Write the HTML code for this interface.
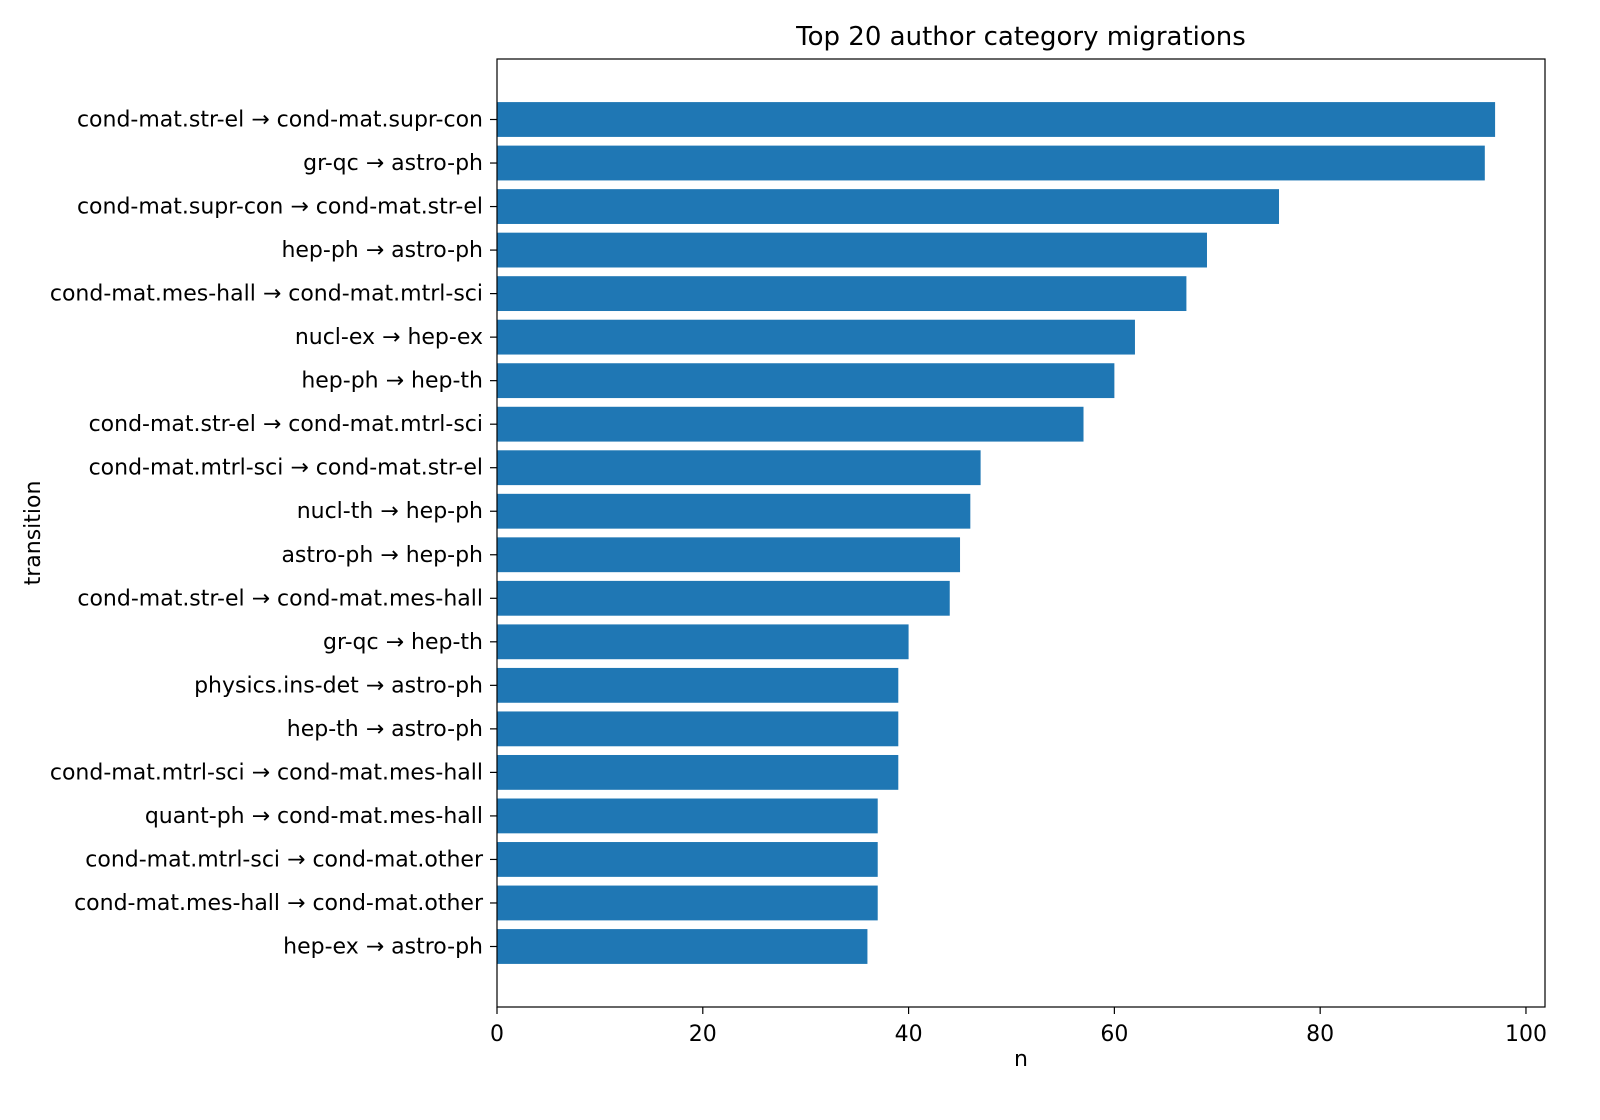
<!DOCTYPE html>
<html><head><meta charset="utf-8"><style>
html,body{margin:0;padding:0;background:#fff;overflow:hidden;width:1600px;height:1120px;}
svg{display:block;}
svg text{font-family:"DejaVu Sans","Liberation Sans",sans-serif;fill:#000;}
</style></head><body>
<svg id="chart" width="1600" height="1120" xmlns="http://www.w3.org/2000/svg"></svg>
<script>
const categories=["cond-mat.str-el → cond-mat.supr-con","gr-qc → astro-ph","cond-mat.supr-con → cond-mat.str-el","hep-ph → astro-ph","cond-mat.mes-hall → cond-mat.mtrl-sci","nucl-ex → hep-ex","hep-ph → hep-th","cond-mat.str-el → cond-mat.mtrl-sci","cond-mat.mtrl-sci → cond-mat.str-el","nucl-th → hep-ph","astro-ph → hep-ph","cond-mat.str-el → cond-mat.mes-hall","gr-qc → hep-th","physics.ins-det → astro-ph","hep-th → astro-ph","cond-mat.mtrl-sci → cond-mat.mes-hall","quant-ph → cond-mat.mes-hall","cond-mat.mtrl-sci → cond-mat.other","cond-mat.mes-hall → cond-mat.other","hep-ex → astro-ph"];
const values=[97,96,76,69,67,62,60,57,47,46,45,44,40,39,39,39,37,37,37,36];
const xTicks=[0,20,40,60,80,100];
const NS="http://www.w3.org/2000/svg";
const svg=document.getElementById('chart');
const L=497,R=1545,T=59,B=1007;
const maxV=Math.max(...values)*1.05;
const x=v=>L+v/maxV*(R-L);
const n=values.length;
const yMin=-0.4-0.05*(n-0.2),yMax=n-0.6+0.05*(n-0.2);
const y=i=>T+(i-yMin)/(yMax-yMin)*(B-T);
const unit=(B-T)/(yMax-yMin);
function mk(tag,attrs,txt){const e=document.createElementNS(NS,tag);for(const k in attrs)e.setAttribute(k,attrs[k]);if(txt!==undefined)e.textContent=txt;svg.appendChild(e);return e;}
values.forEach((v,i)=>{
  const r=mk('rect',{x:x(0),y:y(i)-0.4*unit,width:x(v)-x(0),height:0.8*unit,fill:'#1f77b4'});
  
  
  mk('line',{x1:L-7,x2:L,y1:y(i),y2:y(i),stroke:'#000','stroke-width':1.2});
  const t=mk('text',{x:L-14,y:y(i)+7,'text-anchor':'end','font-size':22},categories[i]);
  
  
});
xTicks.forEach(v=>{
  mk('line',{x1:x(v),x2:x(v),y1:B,y2:B+7,stroke:'#000','stroke-width':1.2});
  const t=mk('text',{x:x(v),y:B+34,'text-anchor':'middle','font-size':22},String(v));
  
  
});
const f=mk('rect',{x:L,y:T,width:R-L,height:B-T,fill:'none',stroke:'#000','stroke-width':1.2});


const ti=mk('text',{x:(L+R)/2,y:45,'text-anchor':'middle','font-size':26},'Top 20 author category migrations');


const xl=mk('text',{x:(L+R)/2,y:1066,'text-anchor':'middle','font-size':22},'n');


const yl=mk('text',{x:0,y:0,'text-anchor':'middle','font-size':22,transform:'translate(40,533) rotate(-90)'},'transition');


</script>
</body></html>
